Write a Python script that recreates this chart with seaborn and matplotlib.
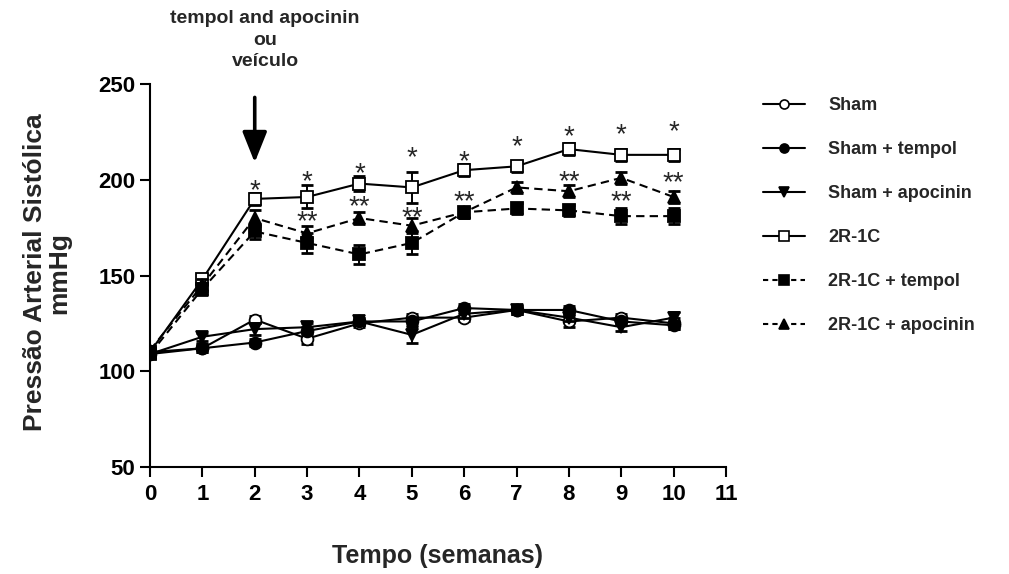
import numpy as np
import pandas as pd
import matplotlib
matplotlib.use("Agg")
import matplotlib.pyplot as plt
import seaborn as sns
from matplotlib.lines import Line2D

# ---------------- data ----------------
weeks = [0, 1, 2, 3, 4, 5, 6, 7, 8, 9, 10]
sham = [109, 112, 127, 117, 125, 128, 128, 132, 126, 128, 125]
sham_err = [2, 2, 2, 3, 2, 2, 2, 2, 3, 2, 3]
sham_tempol = [110, 112, 115, 121, 126, 126, 133, 132, 132, 126, 124]
sham_tempol_err = [2, 2, 2, 2, 2, 2, 2, 2, 2, 2, 2]
sham_apocinin = [109, 118, 122, 123, 126, 119, 130, 132, 128, 123, 128]
sham_apocinin_err = [2, 2, 3, 2, 2, 4, 2, 2, 2, 2, 3]
r2c1 = [110, 148, 190, 191, 198, 196, 205, 207, 216, 213, 213]
r2c1_err = [2, 3, 3, 6, 4, 8, 3, 3, 3, 3, 3]
r2c1_tempol = [109, 143, 173, 167, 161, 167, 183, 185, 184, 181, 181]
r2c1_tempol_err = [2, 3, 4, 5, 5, 6, 3, 3, 3, 4, 4]
r2c1_apocinin = [111, 145, 180, 172, 180, 176, 183, 196, 194, 201, 191]
r2c1_apocinin_err = [2, 3, 4, 4, 3, 4, 3, 3, 3, 3, 3]

labels = ["Sham", "Sham + tempol", "Sham + apocinin",
          "2R-1C", "2R-1C + tempol", "2R-1C + apocinin"]

star_x = [2, 3, 4, 5, 6, 7, 8, 9, 10, 3, 4, 5, 6, 8, 9, 10]
star_y = [196.7, 201.4, 206, 214, 212, 219.7, 225, 226, 227.5,
          180.5, 188.4, 183, 191, 201.4, 191, 201]
star_text = ["*"] * 9 + ["**"] * 7

x_ticks = [0, 1, 2, 3, 4, 5, 6, 7, 8, 9, 10, 11]
y_ticks = [50, 100, 150, 200, 250]
arrow_x = 2
arrow_from = 243
arrow_to = 209

# ---------------- style ----------------
sns.set_style("ticks")
plt.rcParams["font.family"] = ["Liberation Sans", "DejaVu Sans"]
plt.rcParams["font.weight"] = "bold"

fig = plt.figure(figsize=(10.09, 5.74), dpi=100)
ax = fig.add_axes([150 / 1009, 1 - 467 / 574, 576 / 1009, 383 / 574])

series = [
    (sham, sham_err, dict(marker="o", mfc="white", ls="-")),
    (sham_tempol, sham_tempol_err, dict(marker="o", mfc="black", ls="-")),
    (sham_apocinin, sham_apocinin_err, dict(marker="v", mfc="black", ls="-")),
    (r2c1, r2c1_err, dict(marker="s", mfc="white", ls="-")),
    (r2c1_tempol, r2c1_tempol_err, dict(marker="s", mfc="black", ls=(0, (4, 2.5)))),
    (r2c1_apocinin, r2c1_apocinin_err, dict(marker="^", mfc="black", ls=(0, (4, 2.5)))),
]

handles = []
for i, ((vals, errs, st), lab) in enumerate(zip(series, labels)):
    df = pd.DataFrame({"week": weeks, "value": vals})
    ax.errorbar(weeks, vals, yerr=errs, fmt="none", ecolor="black",
                elinewidth=1.4, capsize=4.2, capthick=2, zorder=2 + i)
    sns.lineplot(data=df, x="week", y="value", ax=ax, color="black",
                 marker=st["marker"], markersize=9 if st["marker"] in "^v" else 8.5,
                 markerfacecolor=st["mfc"], markeredgecolor="black",
                 markeredgewidth=1.3, linestyle=st["ls"], linewidth=1.5,
                 zorder=3 + i, legend=False)
    handles.append(Line2D([], [], color="black", lw=1.5,
                          linestyle=st["ls"] if st["ls"] == "-" else (0, (2.5, 2)),
                          marker=st["marker"], markersize=7 if st["marker"] in "^v" else 6.5,
                          markerfacecolor=st["mfc"], markeredgecolor="black",
                          markeredgewidth=1.2, label=lab))

for sx, sy, t in zip(star_x, star_y, star_text):
    ax.annotate(t, xy=(sx, sy), xytext=(0, -9), textcoords="offset points",
                ha="center", va="baseline", fontsize=20, fontweight="normal",
                annotation_clip=False)

ax.annotate("", xy=(arrow_x, arrow_to), xytext=(arrow_x, arrow_from),
            arrowprops=dict(arrowstyle="-|>,head_length=1.25,head_width=0.5",
                            lw=2.6, color="black", shrinkA=0, shrinkB=0,
                            mutation_scale=15),
            annotation_clip=False)

fig.text(265 / 1009, 1 - 10 / 574, "tempol and apocinin\nou\nveículo",
         ha="center", va="top", fontsize=14, fontweight="bold",
         multialignment="center", linespacing=1.35)

ax.set_xlim(0, 11)
ax.set_ylim(50, 250)
ax.set_xticks(x_ticks)
ax.set_yticks(y_ticks)
ax.set_xlabel("")
ax.set_ylabel("")
for s in ["top", "right"]:
    ax.spines[s].set_visible(False)
for s in ["left", "bottom"]:
    ax.spines[s].set_linewidth(1.5)
    ax.spines[s].set_color("black")
ax.tick_params(axis="both", direction="out", length=7.5, width=1.5,
               labelsize=16, colors="black")
ax.tick_params(axis="y", pad=3)
ax.tick_params(axis="x", pad=5)
for lbl in ax.get_xticklabels() + ax.get_yticklabels():
    lbl.set_fontweight("bold")

fig.text(47 / 1009, 0.525, "Pressão Arterial Sistólica\nmmHg", rotation=90,
         ha="center", va="center", fontsize=19, fontweight="bold",
         multialignment="center", linespacing=1.05)
fig.text(437 / 1009, 1 - 556 / 574, "Tempo (semanas)", ha="center", va="center",
         fontsize=18, fontweight="bold")

leg = fig.legend(handles=handles, loc="upper left",
                 bbox_to_anchor=(763 / 1009, 1 - 97 / 574),
                 frameon=False, prop=dict(size=13, weight="bold"),
                 handlelength=2.3, handletextpad=1.3, labelspacing=1.5,
                 borderaxespad=0, borderpad=0)

fig.savefig("out.png", dpi=100, facecolor="white")
